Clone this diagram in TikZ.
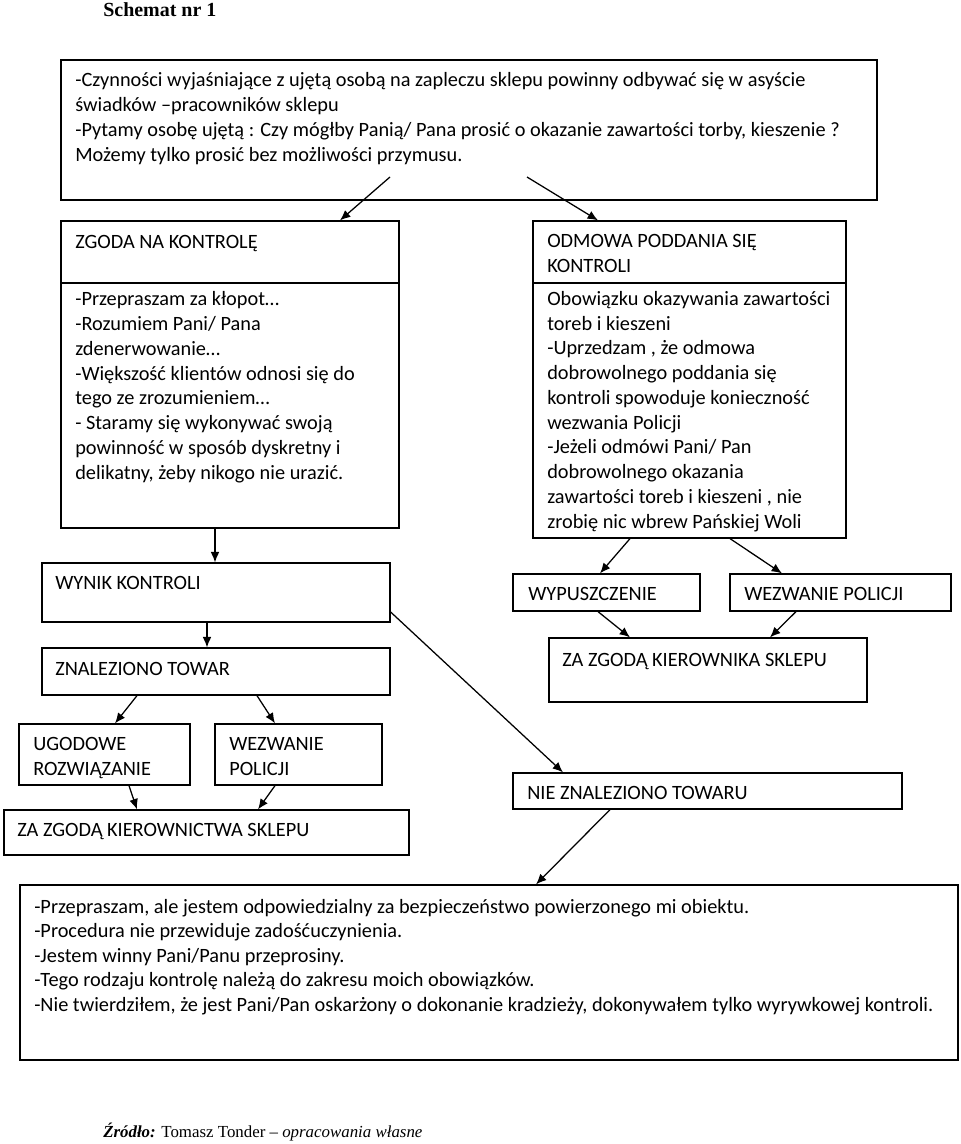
\documentclass[tikz,border=0pt]{standalone}
\usepackage{fontspec}
\setmainfont{Carlito}
\newfontfamily\timesfont{Liberation Serif}
\usetikzlibrary{arrows.meta,fit}

\begin{document}
\begin{tikzpicture}[x=0.025cm, y=-0.025cm,
	box/.style={draw, line width=0.9pt, inner sep=0pt},
	txt/.style={anchor=base west, inner sep=0pt, align=left, font=\fontsize{14.45}{17.6}\selectfont},
	arr/.style={-{Latex[length=2.6mm,width=2.2mm]}, line width=0.9pt}]
	
	\useasboundingbox (0,0) rectangle (960,1144);
	
	% title
	\node [txt, font=\timesfont\bfseries\fontsize{14.2}{17}\selectfont] (tytul) at (103,16) {Schemat nr 1};
	
	% top box (multi-line text sits on its last baseline)
	\node [box, line width=2.1pt, fit={(61,60) (877,200)}] (zapleczu) {};
	\node [txt] (zapleczutxt) at (75,161) {-Czynności wyjaśniające z ujętą osobą na zapleczu sklepu powinny odbywać się w asyście\\
		świadków –pracowników sklepu\\
		-Pytamy osobę ujętą : Czy mógłby Panią/ Pana prosić o okazanie zawartości torby, kieszenie ?\\
		Możemy tylko prosić bez możliwości przymusu.};
	
	% zgoda
	\node [box, fit={(61,221) (399,528)}] (zgoda) {};
	\draw [line width=0.9pt] (zgoda.west |- 0,283) -- (zgoda.east |- 0,283);
	\node [txt] (zgodatxt) at (75,248) {ZGODA NA KONTROLĘ};
	\node [txt] (zgodabody) at (75,479) {-Przepraszam za kłopot…\\
		-Rozumiem Pani/ Pana\\
		zdenerwowanie…\\
		-Większość klientów odnosi się do\\
		tego ze zrozumieniem…\\
		- Staramy się wykonywać swoją\\
		powinność w sposób dyskretny i\\
		delikatny, żeby nikogo nie urazić.};
	
	% odmowa
	\node [box, fit={(533,221) (846,538)}] (odmowa) {};
	\draw [line width=0.9pt] (odmowa.west |- 0,283) -- (odmowa.east |- 0,283);
	\node [txt] (odmowatxt) at (547,272) {ODMOWA PODDANIA SIĘ\\KONTROLI};
	\node [txt] (odmowabody) at (547,528) {Obowiązku okazywania zawartości\\
		toreb i kieszeni\\
		-Uprzedzam , że odmowa\\
		dobrowolnego poddania się\\
		kontroli spowoduje konieczność\\
		wezwania Policji\\
		-Jeżeli odmówi Pani/ Pan\\
		dobrowolnego okazania\\
		zawartości toreb i kieszeni , nie\\
		zrobię nic wbrew Pańskiej Woli};
	
	% left branch
	\node [box, fit={(42,563) (390,622)}] (wynik) {};
	\node [txt] at (55,589) {WYNIK KONTROLI};
	\node [box, fit={(42,648) (390,695)}] (znaleziono) {};
	\node [txt] at (55,675) {ZNALEZIONO TOWAR};
	\node [box, fit={(19,724) (190,785)}] (ugoda) {};
	\node [txt] at (33,775) {UGODOWE\\ROZWIĄZANIE};
	\node [box, fit={(215,724) (382,785)}] (policjaA) {};
	\node [txt] at (229,775) {WEZWANIE\\POLICJI};
	\node [box, fit={(4,810) (409,855)}] (kierownictwo) {};
	\node [txt] at (17,836) {ZA ZGODĄ KIEROWNICTWA SKLEPU};
	
	% right branch
	\node [box, fit={(513,574) (700,611)}] (wypuszczenie) {};
	\node [txt] at (528,600) {WYPUSZCZENIE};
	\node [box, fit={(730,574) (951,611)}] (policjaB) {};
	\node [txt] at (744,600) {WEZWANIE POLICJI};
	\node [box, fit={(549,638) (867,702)}] (kierownik) {};
	\node [txt] at (562,666) {ZA ZGODĄ KIEROWNIKA SKLEPU};
	\node [box, fit={(513,773) (902,809)}] (nieznaleziono) {};
	\node [txt] at (527,799) {NIE ZNALEZIONO TOWARU};
	
	% przeprosiny
	\node [box, fit={(20,885) (958,1060)}] (przeprosiny) {};
	\node [txt, font=\fontsize{14.45}{17.4}\selectfont] at (34,1011) {-Przepraszam, ale jestem odpowiedzialny za bezpieczeństwo powierzonego mi obiektu.\\
		-Procedura nie przewiduje zadośćuczynienia.\\
		-Jestem winny Pani/Panu przeprosiny.\\
		-Tego rodzaju kontrolę należą do zakresu moich obowiązków.\\
		-Nie twierdziłem, że jest Pani/Pan oskarżony o dokonanie kradzieży, dokonywałem tylko wyrywkowej kontroli.};
	
	% source
	\node [txt, font=\timesfont\fontsize{12}{14}\selectfont] (zrodlo) at (103,1137) {\textbf{\textit{Źródło:}} Tomasz Tonder – \textit{opracowania własne}};
	
	% arrows
	\coordinate (zapleczuL) at (390,177);
	\coordinate (zapleczuR) at (527,177);
	\draw [arr] (zapleczuL) -- (zgoda.north -| 340,0);
	\draw [arr] (zapleczuR) -- (odmowa.north -| 598,0);
	\draw [arr] (zgoda.south -| 215,0) -- (wynik.north -| 215,0);
	\draw [arr] (wynik.south -| 207,0) -- (znaleziono.north -| 207,0);
	\draw [arr] (wynik.east |- 0,612) -- (nieznaleziono.north -| 563,0);
	\draw [arr] (znaleziono.south -| 137,0) -- (ugoda.north -| 115,0);
	\draw [arr] (znaleziono.south -| 257,0) -- (policjaA.north -| 275,0);
	\draw [arr] (ugoda.south -| 129,0) -- (kierownictwo.north -| 137,0);
	\draw [arr] (policjaA.south -| 275,0) -- (kierownictwo.north -| 258,0);
	\draw [arr] (odmowa.south -| 630,0) -- (wypuszczenie.north -| 600,0);
	\draw [arr] (odmowa.south -| 730,0) -- (policjaB.north -| 782,0);
	\draw [arr] (wypuszczenie.south -| 598,0) -- (kierownik.north -| 630,0);
	\draw [arr] (policjaB.south -| 796,0) -- (kierownik.north -| 770,0);
	\draw [arr] (nieznaleziono.south -| 610,0) -- (przeprosiny.north -| 536,0);
	
\end{tikzpicture}
\end{document}
